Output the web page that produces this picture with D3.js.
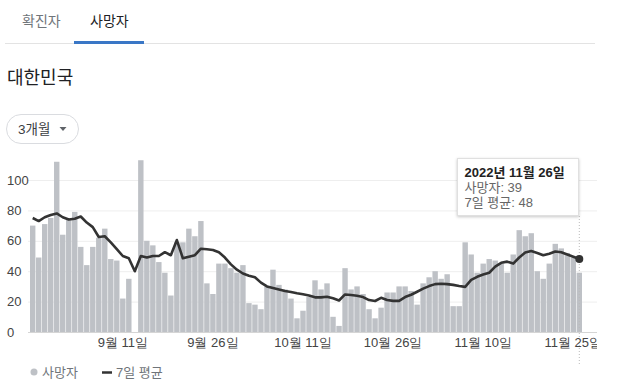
<!DOCTYPE html>
<html>
<head>
<meta charset="utf-8">
<script src="https://cdn.jsdelivr.net/npm/d3@7"></script>
<style>
  body { margin: 0; background: #fff; }
  svg { display: block; font-family: "Liberation Sans", Arial, "Noto Sans CJK KR", sans-serif; }
</style>
</head>
<body>
<svg id="fig" width="629" height="391"></svg>
<script>
// daily deaths, 2022-08-27 .. 2022-11-26
const startDay = new Date(2022, 7, 27);
const deaths = [
  70, 49, 71, 75, 112, 64, 74, 79, 56, 44,
  56, 62, 68, 48, 47, 22, 35, 0, 113, 60,
  57, 46, 39, 24, 59, 59, 68, 63, 73, 32,
  25, 45, 45, 42, 39, 44, 19, 18, 15, 30,
  41, 31, 28, 22, 9, 14, 23, 34, 28, 32,
  10, 4, 42, 28, 30, 25, 15, 9, 16, 26,
  26, 30, 30, 27, 18, 32, 36, 40, 35, 38,
  17, 17, 59, 51, 39, 45, 48, 47, 45, 39,
  51, 67, 63, 65, 40, 35, 45, 58, 55, 52,
  49, 39
];
// 7-day average as drawn
const avg7 = [
  75, 73, 75.5, 77, 78, 75.5, 74, 74.5, 76, 72,
  69, 62.5, 63, 59, 54.5, 50, 48.5, 40, 50, 49,
  50, 50, 52.5, 50.5, 60.5, 48.5, 49.5, 50.5, 54.8, 54.4,
  54, 52.5, 49, 44.5, 41, 38.5, 37, 36, 32.5, 30,
  29, 28, 27, 26.3, 25.5, 24.8, 24, 22.8, 22.8, 23.2,
  22.2, 20.7, 24.7, 24.3, 23.8, 23, 21, 20.4, 22.5, 21,
  20.5, 20.5, 23, 24.5, 26.5, 28.5, 30.2, 31.5, 31.7, 31.5,
  31, 30.3, 29.7, 34.3, 36.3, 37.8, 39, 43, 45.5, 46.3,
  45, 49, 52.3, 53.3, 52, 50.5, 51.5, 53, 52.5, 51,
  49.5, 48
];
const yTicks = [0, 20, 40, 60, 80, 100];
const xTickDays = [[8, 11], [8, 26], [9, 11], [9, 26], [10, 10], [10, 25]];
const tabs = ['확진자', '사망자'];

const dates = deaths.map((_, i) => d3.timeDay.offset(startDay, i));
const data = dates.map((d, i) => ({ date: d, value: deaths[i], avg: avg7[i] }));
const tickDates = xTickDays.map(([m, d]) => dates.find(t => t.getMonth() === m && t.getDate() === d));
const fmt = d => `${d.getMonth() + 1}월 ${d.getDate()}일`;

const svg = d3.select('#fig');

// shadow for tooltip
const defs = svg.append('defs');
const f = defs.append('filter').attr('id', 'sh').attr('x', '-20%').attr('y', '-20%').attr('width', '140%').attr('height', '160%');
f.append('feDropShadow').attr('dx', 0).attr('dy', 1).attr('stdDeviation', 1.5).attr('flood-color', '#000').attr('flood-opacity', 0.22);
defs.append('clipPath').attr('id', 'clip').append('rect').attr('x', 0).attr('y', 0).attr('width', 597).attr('height', 391);

// header
svg.append('line').attr('x1', 5).attr('x2', 595).attr('y1', 43.5).attr('y2', 43.5).attr('stroke', '#e3e3e3');
svg.selectAll('.tab').data(tabs).join('text')
  .attr('x', (d, i) => i ? 90 : 22).attr('y', 26)
  .attr('font-size', 14).attr('fill', (d, i) => i ? '#202124' : '#70757a')
  .text(d => d);
svg.append('rect').attr('x', 74).attr('y', 41).attr('width', 70).attr('height', 3).attr('fill', '#3a77c6');

svg.append('text').attr('x', 7).attr('y', 84).attr('font-size', 18).attr('fill', '#202124').text('대한민국');

svg.append('rect').attr('x', 6.5).attr('y', 114.5).attr('width', 72).attr('height', 29).attr('rx', 14.5)
  .attr('fill', '#fff').attr('stroke', '#dadce0');
svg.append('text').attr('x', 18).attr('y', 134).attr('font-size', 13.5).attr('fill', '#3c4043').text('3개월');
svg.append('path').attr('d', 'M59.5,127 L66.5,127 L63,131 Z').attr('fill', '#5f6368');

// chart
const x = d3.scaleBand().domain(dates).range([30, 582]).paddingInner(0.1);
const y = d3.scaleLinear().domain([0, 100]).range([332, 180]);
const chart = svg.append('g').attr('clip-path', 'url(#clip)');

chart.append('g').selectAll('line').data(yTicks).join('line')
  .attr('x1', 28).attr('x2', 597)
  .attr('y1', d => y(d) + 0.5).attr('y2', d => y(d) + 0.5)
  .attr('stroke', d => d === 0 ? '#d5d5d5' : '#eeeeee');

const yAxis = chart.append('g').attr('transform', 'translate(7,0)')
  .call(d3.axisRight(y).tickValues(yTicks).tickSize(0).tickPadding(0));
yAxis.select('.domain').remove();
yAxis.selectAll('text').attr('font-size', 13).attr('fill', '#444').attr('font-family', null);

chart.append('g').selectAll('rect').data(data).join('rect')
  .attr('x', d => x(d.date)).attr('width', x.bandwidth())
  .attr('y', d => y(d.value)).attr('height', d => y(0) - y(d.value))
  .attr('fill', '#bec1c6');

const last = data[data.length - 1];
const cx = x(last.date) + x.bandwidth() / 2;
chart.append('line').attr('x1', cx).attr('x2', cx).attr('y1', 216).attr('y2', 366)
  .attr('stroke', '#bbb').attr('stroke-dasharray', '1,2');

const line = d3.line().x(d => x(d.date) + x.bandwidth() / 2).y(d => y(d.avg));
chart.append('path').datum(data).attr('d', line)
  .attr('fill', 'none').attr('stroke', '#333').attr('stroke-width', 2.6).attr('stroke-linejoin', 'round');
chart.append('circle').attr('cx', cx).attr('cy', y(last.avg)).attr('r', 4).attr('fill', '#333');

const xAxis = chart.append('g').attr('transform', 'translate(0,333)')
  .call(d3.axisBottom(x).tickValues(tickDates).tickFormat(fmt).tickSize(0).tickPadding(5));
xAxis.select('.domain').remove();
xAxis.selectAll('text').attr('font-size', 13).attr('fill', '#444').attr('font-family', null);

// tooltip
const tip = svg.append('g').attr('transform', 'translate(457.5,158.5)');
tip.append('rect').attr('width', 121).attr('height', 57).attr('fill', '#fff').attr('stroke', '#e0e0e0').attr('filter', 'url(#sh)');
tip.append('text').attr('x', 7).attr('y', 18).attr('font-size', 13).attr('font-weight', 'bold').attr('fill', '#222')
  .text(`${last.date.getFullYear()}년 ${fmt(last.date)}`);
tip.append('text').attr('x', 7).attr('y', 33).attr('font-size', 13).attr('fill', '#666').text(`사망자: ${last.value}`);
tip.append('text').attr('x', 7).attr('y', 48).attr('font-size', 13).attr('fill', '#666').text(`7일 평균: ${Math.round(last.avg)}`);

// legend
const lg = svg.append('g').attr('transform', 'translate(0,372)');
lg.append('circle').attr('cx', 34).attr('cy', 0).attr('r', 3.5).attr('fill', '#bec1c6');
lg.append('text').attr('x', 42).attr('y', 5).attr('font-size', 13).attr('fill', '#70757a').text('사망자');
lg.append('line').attr('x1', 102).attr('x2', 112).attr('y1', 0.5).attr('y2', 0.5).attr('stroke', '#333').attr('stroke-width', 2.5);
lg.append('text').attr('x', 116).attr('y', 5).attr('font-size', 13).attr('fill', '#70757a').text('7일 평균');
</script>
</body>
</html>
